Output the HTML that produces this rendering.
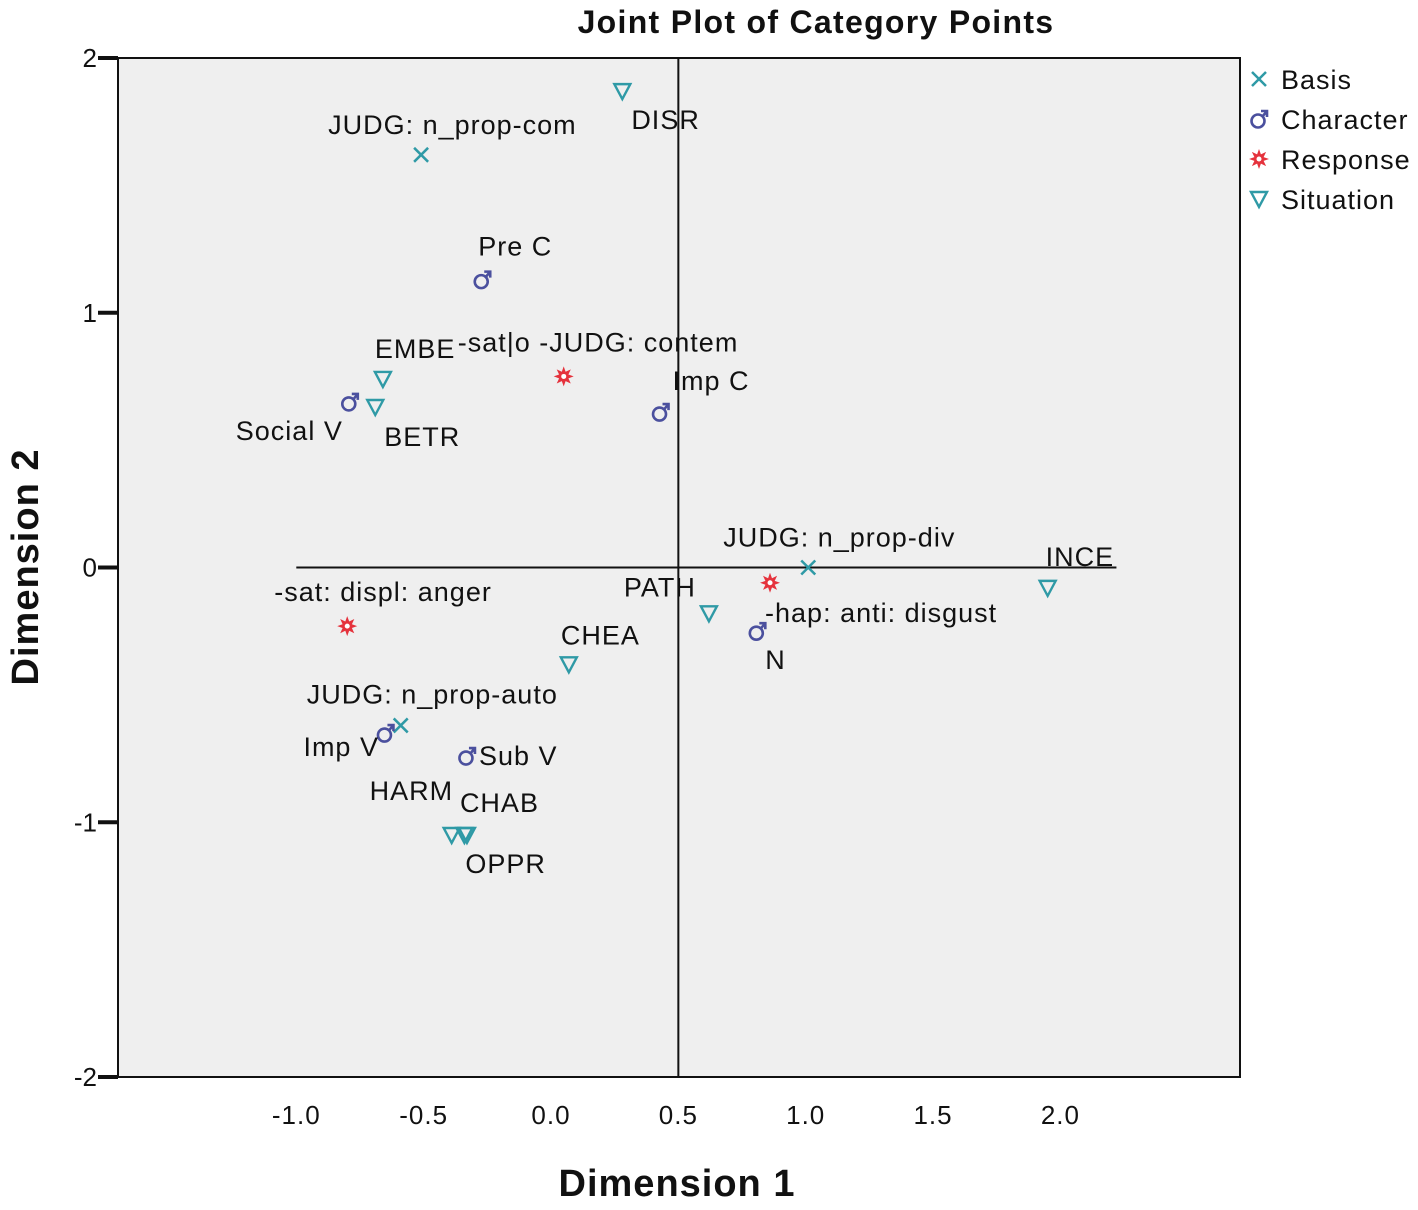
<!DOCTYPE html>
<html><head><meta charset="utf-8"><style>
body{margin:0;background:#fff;}
svg text{font-family:"Liberation Sans",Arial,sans-serif;fill:#111;}
</style></head><body>
<svg id="chart" width="1418" height="1205" xmlns="http://www.w3.org/2000/svg">
<text x="816" y="33" font-size="32" font-weight="bold" letter-spacing="1.3" text-anchor="middle">Joint Plot of Category Points</text>
<rect x="118" y="58" width="1122" height="1019" fill="#efefef" stroke="#111" stroke-width="2"/>
<g id="axes"></g>
<g id="marks"></g>
<text x="677" y="1196" font-size="38" font-weight="bold" letter-spacing="1" text-anchor="middle">Dimension 1</text>
<text transform="translate(38,567) rotate(-90)" font-size="38" font-weight="bold" letter-spacing="1" text-anchor="middle">Dimension 2</text>
<g id="legend"></g>
</svg>
<script>
const labels=["DISR","JUDG: n_prop-com","Pre C","EMBE","-sat|o -JUDG: contem","Imp C","Social V","BETR","JUDG: n_prop-div","INCE","-hap: anti: disgust","PATH","N","-sat: displ: anger","CHEA","JUDG: n_prop-auto","Imp V","Sub V","HARM","CHAB","OPPR"];
const groups=["Situation","Basis","Character","Situation","Response","Character","Character","Situation","Basis","Situation","Response","Situation","Character","Response","Situation","Basis","Character","Character","Situation","Situation","Situation"];
const dim1=[0.28,-0.51,-0.27,-0.66,0.05,0.43,-0.79,-0.69,1.01,1.95,0.86,0.62,0.81,-0.80,0.07,-0.59,-0.65,-0.33,-0.39,-0.33,-0.34];
const dim2=[1.87,1.62,1.13,0.74,0.75,0.61,0.65,0.63,0.0,-0.08,-0.06,-0.18,-0.25,-0.23,-0.38,-0.62,-0.65,-0.74,-1.05,-1.05,-1.05];
const xTicks=[-1.0,-0.5,0.0,0.5,1.0,1.5,2.0];
const yTicks=[2,1,0,-1,-2];
const legendItems=["Basis","Character","Response","Situation"];
// label offsets (styling, pixel)
const ldx=[9,-93,-4,-8,-106,12,-114,9,-85,-2,-5,-85,8,-73,-8,-94,-82,12,-82,-7,1];
const ldy=[28,-31,-34,-31,-35,-32,28,29,-31,-32,29,-27,28,-35,-30,-32,13,-1,-45,-33,28];

const X=v=>551+v*254.7, Y=v=>567.5-v*254.75;
const NS="http://www.w3.org/2000/svg";
function mk(t,a,p){const e=document.createElementNS(NS,t);for(const k in a)e.setAttribute(k,a[k]);p.appendChild(e);return e;}
const axes=document.getElementById('axes'),marks=document.getElementById('marks'),leg=document.getElementById('legend');
xTicks.forEach(v=>{const t=mk('text',{x:X(v),y:1124,'font-size':26,'letter-spacing':1,'text-anchor':'middle'},axes);t.textContent=v.toFixed(1);

});
yTicks.forEach(v=>{const l=mk('line',{x1:98,x2:118,y1:Y(v),y2:Y(v),stroke:'#111','stroke-width':4},axes);


const t=mk('text',{x:97,y:Y(v)+9,'font-size':26,'text-anchor':'end'},axes);t.textContent=String(v);

});
const h=mk('line',{x1:X(-1),x2:X(2.22),y1:Y(0),y2:Y(0),stroke:'#111','stroke-width':2},axes);


const vl=mk('line',{x1:X(0.5),x2:X(0.5),y1:58,y2:1077,stroke:'#111','stroke-width':2},axes);



const col={Basis:'#2f9aa6',Character:'#4b509e',Response:'#e5323c',Situation:'#2f9aa6'};
function marker(g,x,y,p){
 const c=col[g];
 if(g==='Basis'){mk('path',{d:`M${x-7} ${y-7}L${x+7} ${y+7}M${x-7} ${y+7}L${x+7} ${y-7}`,stroke:c,'stroke-width':2.5,fill:'none'},p);}
 else if(g==='Character'){mk('circle',{cx:x-1,cy:y+2,r:6.5,fill:'none',stroke:c,'stroke-width':2.6},p);
  mk('path',{d:`M${x+3} ${y-2}L${x+8} ${y-8}M${x+2} ${y-8}L${x+8} ${y-8}L${x+8} ${y-2}`,stroke:c,'stroke-width':2.6,fill:'none'},p);}
 else if(g==='Response'){let d='';for(let i=0;i<16;i++){const r=i%2?5:10,a=i*Math.PI/8;d+=(i?'L':'M')+(x+r*Math.cos(a)).toFixed(1)+' '+(y+r*Math.sin(a)).toFixed(1);}
  mk('path',{d:d+'Z',fill:c},p);mk('circle',{cx:x,cy:y,r:2.5,fill:'#fff'},p);}
 else {mk('path',{d:`M${x-8} ${y-7}L${x+8} ${y-7}L${x} ${y+8}Z`,fill:'none',stroke:c,'stroke-width':2.4},p);}
}
labels.forEach((lb,i)=>{
 const px=X(dim1[i]),py=Y(dim2[i]);
 const g=mk('g',{},marks);
 
 
 marker(groups[i],px,py,g);
 const t=mk('text',{x:px+ldx[i],y:py+ldy[i]+10,'font-size':27,'letter-spacing':1},g);t.textContent=lb;
});
legendItems.forEach((n,i)=>{
 const y=79+i*40;
 const g=mk('g',{},leg);
 
 
 marker(n,1259,y,g);
 const t=mk('text',{x:1281,y:y+10,'font-size':27,'letter-spacing':1},g);t.textContent=n;
});
</script>
</body></html>
